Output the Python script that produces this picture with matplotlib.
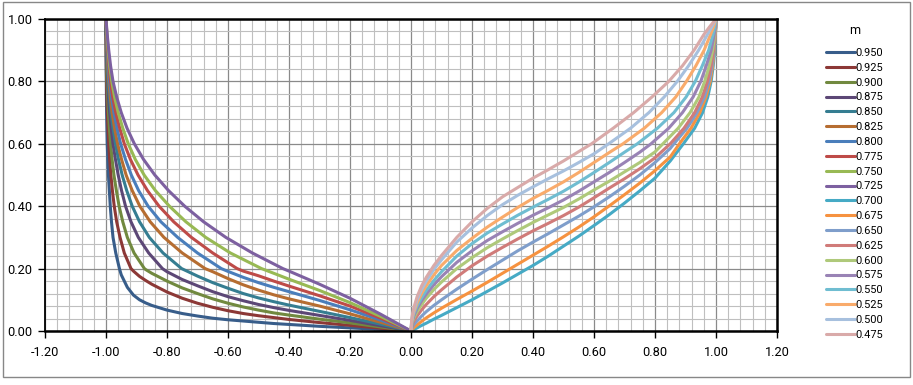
import matplotlib
matplotlib.use("Agg")
import matplotlib.pyplot as plt
from matplotlib.patches import Rectangle
from matplotlib.ticker import MultipleLocator, FormatStrFormatter

plt.rcParams['font.family'] = ['Roboto', 'DejaVu Sans']

# legend labels and colours, in series order
m_labels = ["0.950", "0.925", "0.900", "0.875", "0.850", "0.825", "0.800", "0.775", "0.750", "0.725",
            "0.700", "0.675", "0.650", "0.625", "0.600", "0.575", "0.550", "0.525", "0.500", "0.475"]
m_colors = ["#385D8A", "#8C3836", "#71893F", "#5C4776", "#357D91", "#B66D31", "#4A7EBB", "#BE4B48",
            "#98B954", "#7D60A0", "#46AAC5", "#F69240", "#7F9ECB", "#D07B79", "#AFC97A", "#9983B5",
            "#6FBDD1", "#F9AB6B", "#A7C0DE", "#D9AAA9"]

# left branch (m = 0.950 .. 0.725): x read at fixed heights ...
left_y_levels = [1.0, 0.95, 0.9, 0.85, 0.8, 0.75, 0.7, 0.65, 0.6, 0.55, 0.5, 0.45, 0.4, 0.35, 0.3, 0.25, 0.2]
left_x_upper = [
    [-1.0, -1.0, -0.9998, -0.9995, -0.999, -0.9985, -0.998, -0.997, -0.996, -0.994, -0.992, -0.989, -0.986, -0.982, -0.977, -0.968, -0.956],
    [-1.0, -0.9998, -0.9995, -0.999, -0.998, -0.997, -0.9955, -0.9935, -0.991, -0.988, -0.984, -0.979, -0.973, -0.965, -0.954, -0.94, -0.918],
    [-1.0, -0.9996, -0.999, -0.998, -0.9965, -0.9945, -0.992, -0.989, -0.985, -0.98, -0.974, -0.966, -0.957, -0.945, -0.93, -0.908, -0.874],
    [-1.0, -0.9994, -0.998, -0.9965, -0.9945, -0.992, -0.988, -0.983, -0.977, -0.969, -0.96, -0.949, -0.936, -0.918, -0.894, -0.86, -0.815],
    [-1.0, -0.999, -0.9975, -0.9955, -0.993, -0.989, -0.984, -0.977, -0.969, -0.959, -0.947, -0.932, -0.914, -0.89, -0.858, -0.813, -0.752],
    [-1.0, -0.9985, -0.9965, -0.994, -0.9905, -0.986, -0.98, -0.972, -0.962, -0.949, -0.934, -0.914, -0.889, -0.855, -0.81, -0.75, -0.675],
    [-1.0, -0.998, -0.9955, -0.992, -0.988, -0.982, -0.974, -0.964, -0.952, -0.936, -0.917, -0.893, -0.862, -0.82, -0.765, -0.7, -0.622],
    [-1.0, -0.9975, -0.9945, -0.99, -0.985, -0.978, -0.968, -0.955, -0.94, -0.92, -0.895, -0.864, -0.826, -0.778, -0.72, -0.65, -0.57],
    [-1.0, -0.997, -0.993, -0.988, -0.981, -0.972, -0.96, -0.945, -0.927, -0.904, -0.875, -0.838, -0.792, -0.738, -0.673, -0.592, -0.49],
    [-1.0, -0.996, -0.991, -0.985, -0.977, -0.965, -0.95, -0.931, -0.907, -0.877, -0.84, -0.795, -0.742, -0.68, -0.607, -0.52, -0.42],
]
# ... and heights read at fixed x near the bottom
left_x_levels = [-0.95, -0.93, -0.91, -0.89, -0.87, -0.85, -0.8, -0.75, -0.7, -0.65, -0.6, -0.55, -0.5,
                 -0.45, -0.4, -0.3, -0.2, -0.1, 0.0]
left_y_lower = [
    [0.18, 0.14, 0.115, 0.1, 0.09, 0.082, 0.067, 0.056, 0.048, 0.041, 0.036, 0.032, 0.028, 0.024, 0.021, 0.015, 0.010, 0.005, 0.0],
    [None, None, 0.192, 0.175, 0.162, 0.15, 0.125, 0.105, 0.089, 0.076, 0.065, 0.056, 0.049, 0.043, 0.037, 0.027, 0.018, 0.009, 0.0],
    [None, None, None, None, 0.197, 0.185, 0.16, 0.138, 0.12, 0.103, 0.089, 0.077, 0.067, 0.058, 0.051, 0.038, 0.026, 0.013, 0.0],
    [None, None, None, None, None, None, 0.19, 0.165, 0.145, 0.126, 0.11, 0.097, 0.085, 0.075, 0.066, 0.05, 0.034, 0.017, 0.0],
    [None, None, None, None, None, None, None, None, 0.176, 0.155, 0.137, 0.12, 0.106, 0.094, 0.083, 0.063, 0.043, 0.022, 0.0],
    [None, None, None, None, None, None, None, None, None, 0.19, 0.168, 0.148, 0.131, 0.116, 0.103, 0.08, 0.055, 0.028, 0.0],
    [None, None, None, None, None, None, None, None, None, None, 0.191, 0.172, 0.155, 0.14, 0.126, 0.098, 0.068, 0.035, 0.0],
    [None, None, None, None, None, None, None, None, None, None, None, 0.192, 0.177, 0.16, 0.144, 0.113, 0.08, 0.041, 0.0],
    [None, None, None, None, None, None, None, None, None, None, None, None, None, 0.185, 0.166, 0.13, 0.091, 0.047, 0.0],
    [None, None, None, None, None, None, None, None, None, None, None, None, None, None, 0.192, 0.15, 0.105, 0.054, 0.0],
]

# right branch (m = 0.700 .. 0.475): heights at fixed x ...
right_x_levels = [0.0, 0.002, 0.005, 0.01, 0.02, 0.035, 0.05, 0.075, 0.1, 0.15, 0.2, 0.25, 0.3, 0.35,
                  0.4, 0.45, 0.5, 0.55, 0.6, 0.65, 0.7, 0.75, 0.8, 0.85]
right_y_lower = [
    [0, 0.001, 0.0025, 0.005, 0.01, 0.018, 0.025, 0.038, 0.05, 0.075, 0.1, 0.127, 0.154, 0.182, 0.21, 0.24, 0.272, 0.304, 0.338, 0.373, 0.41, 0.449, 0.49, 0.545],
    [0, 0.002, 0.006, 0.011, 0.019, 0.031, 0.042, 0.058, 0.073, 0.101, 0.128, 0.156, 0.185, 0.214, 0.243, 0.272, 0.302, 0.333, 0.366, 0.401, 0.437, 0.474, 0.514, 0.558],
    [0, 0.007, 0.013, 0.021, 0.032, 0.048, 0.062, 0.082, 0.1, 0.134, 0.166, 0.197, 0.227, 0.257, 0.285, 0.312, 0.34, 0.368, 0.398, 0.43, 0.464, 0.5, 0.54, 0.585],
    [0, 0.012, 0.022, 0.033, 0.048, 0.068, 0.085, 0.11, 0.132, 0.173, 0.209, 0.24, 0.268, 0.295, 0.321, 0.345, 0.37, 0.397, 0.427, 0.458, 0.488, 0.52, 0.555, None],
    [0, 0.017, 0.03, 0.043, 0.062, 0.085, 0.105, 0.133, 0.157, 0.2, 0.235, 0.267, 0.295, 0.322, 0.348, 0.372, 0.396, 0.423, 0.452, 0.48, 0.51, 0.54, 0.574, None],
    [0, 0.02, 0.035, 0.05, 0.072, 0.097, 0.118, 0.148, 0.174, 0.22, 0.257, 0.29, 0.318, 0.345, 0.371, 0.395, 0.42, 0.448, 0.478, 0.508, 0.54, 0.573, None, None],
    [0, 0.023, 0.04, 0.057, 0.08, 0.107, 0.13, 0.162, 0.19, 0.24, 0.28, 0.314, 0.343, 0.371, 0.397, 0.422, 0.448, 0.477, 0.508, 0.54, 0.573, None, None, None],
    [0, 0.026, 0.045, 0.063, 0.09, 0.12, 0.145, 0.18, 0.21, 0.258, 0.297, 0.333, 0.365, 0.396, 0.425, 0.451, 0.478, 0.508, 0.54, 0.572, None, None, None, None],
    [0, 0.03, 0.05, 0.07, 0.1, 0.133, 0.16, 0.197, 0.228, 0.285, 0.33, 0.37, 0.405, 0.435, 0.462, 0.488, 0.513, 0.54, 0.568, None, None, None, None, None],
    [0, 0.034, 0.055, 0.077, 0.11, 0.145, 0.172, 0.21, 0.242, 0.3, 0.35, 0.393, 0.43, 0.46, 0.49, 0.517, 0.545, 0.575, None, None, None, None, None, None],
]
# ... and x at fixed heights near x = 1
right_y_levels = [0.6, 0.65, 0.7, 0.75, 0.8, 0.85, 0.9, 0.95, 0.975, 1.0]
right_x_upper = [
    [0.893, 0.93, 0.956, 0.973, 0.984, 0.991, 0.996, 0.998, 0.9995, 1.0],
    [0.88, 0.918, 0.947, 0.967, 0.981, 0.989, 0.994, 0.998, 0.9993, 1.0],
    [0.862, 0.905, 0.938, 0.962, 0.977, 0.987, 0.993, 0.997, 0.9992, 1.0],
    [0.85, 0.895, 0.93, 0.955, 0.972, 0.984, 0.992, 0.997, 0.999, 1.0],
    [0.826, 0.876, 0.915, 0.944, 0.963, 0.978, 0.989, 0.996, 0.9985, 1.0],
    [0.787, 0.845, 0.89, 0.925, 0.95, 0.968, 0.984, 0.994, 0.998, 1.0],
    [0.742, 0.808, 0.862, 0.902, 0.932, 0.955, 0.976, 0.99, 0.996, 1.0],
    [0.695, 0.765, 0.822, 0.868, 0.903, 0.934, 0.961, 0.982, 0.992, 1.0],
    [0.648, 0.72, 0.78, 0.83, 0.873, 0.91, 0.943, 0.972, 0.986, 1.0],
    [0.592, 0.663, 0.73, 0.79, 0.845, 0.89, 0.928, 0.96, 0.979, 1.0],
]


def curve_points(xs_a, ys_a, xs_b, ys_b):
    pts = [(x, y) for x, y in zip(xs_a, ys_a) if x is not None and y is not None]
    pts += [(x, y) for x, y in zip(xs_b, ys_b) if x is not None and y is not None]
    pts.sort()
    return [p[0] for p in pts], [p[1] for p in pts]


W, H = 913, 385
fig = plt.figure(figsize=(W / 100, H / 100), dpi=100)
ax = fig.add_axes([45 / W, 1 - 331 / H, (777 - 45) / W, (331 - 19) / H])

lines = []
for i in range(10):
    xs, ys = curve_points(left_x_upper[i], left_y_levels, left_x_levels, left_y_lower[i])
    ln, = ax.plot(xs, ys, color=m_colors[i], lw=2.2, solid_capstyle="round", solid_joinstyle="round")
    lines.append(ln)
for i in range(10):
    xs, ys = curve_points(right_x_levels, right_y_lower[i], right_x_upper[i], right_y_levels)
    ln, = ax.plot(xs, ys, color=m_colors[10 + i], lw=2.2, solid_capstyle="round", solid_joinstyle="round")
    lines.append(ln)

ax.set_xlim(-1.2, 1.2)
ax.set_ylim(0, 1)
ax.xaxis.set_major_locator(MultipleLocator(0.2))
ax.xaxis.set_minor_locator(MultipleLocator(0.04))
ax.yaxis.set_major_locator(MultipleLocator(0.2))
ax.yaxis.set_minor_locator(MultipleLocator(0.04))
ax.xaxis.set_major_formatter(FormatStrFormatter("%.2f"))
ax.yaxis.set_major_formatter(FormatStrFormatter("%.2f"))
ax.grid(which="major", color="#8A8A8A", lw=0.9)
ax.grid(which="minor", color="#BFBFBF", lw=0.8)
ax.set_axisbelow(True)
ax.tick_params(which="major", direction="out", length=5, width=1, color="#000000",
               labelsize=9.2, labelcolor="#000000")
ax.tick_params(axis="x", pad=6)
ax.tick_params(axis="y", pad=4)
ax.tick_params(which="minor", length=0)
for side in ["top", "right", "bottom", "left"]:
    ax.spines[side].set_color("#000000")
    ax.spines[side].set_linewidth(1.8)
ax.spines["left"].set_linewidth(1.3)

fig.text(855 / W, 1 - 30 / H, "m", ha="center", va="center", fontsize=9)
fig.legend(lines, m_labels, loc="upper left", bbox_to_anchor=(826 / W, 1 - 48 / H),
           frameon=False, fontsize=7.9, handlelength=2.6, handletextpad=0.1,
           labelspacing=0.44, borderpad=0, borderaxespad=0)

fig.patches.append(Rectangle((3 / W, 1 - 377 / H), 907 / W, 375 / H, transform=fig.transFigure,
                             fill=False, edgecolor="#878787", lw=1))

fig.savefig("out.png", dpi=100)
